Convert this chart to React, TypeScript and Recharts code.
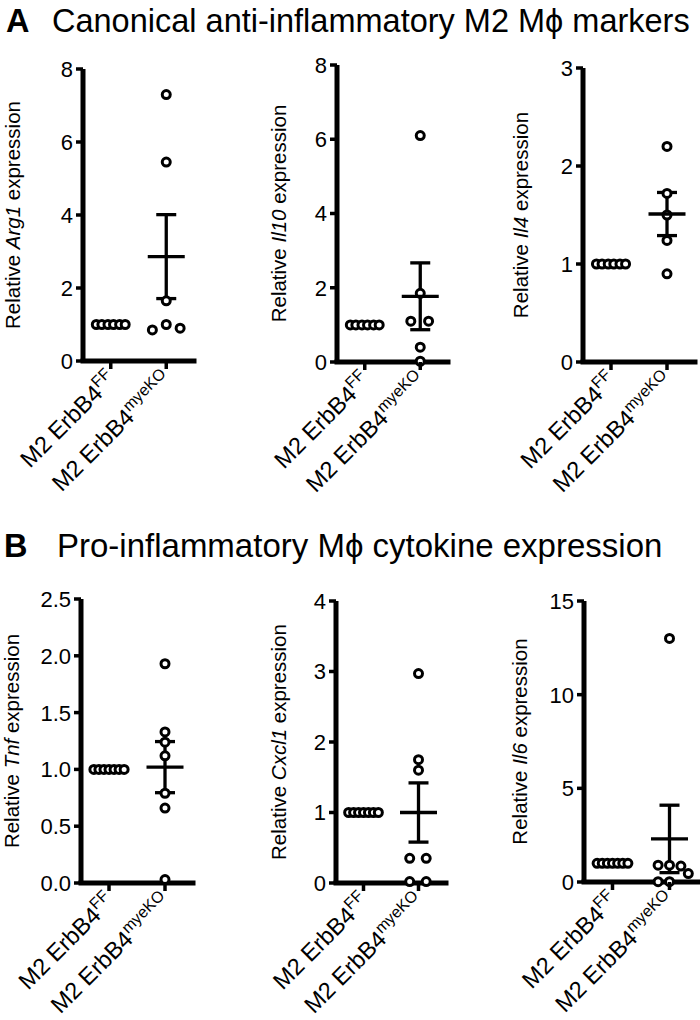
import React from 'react';
import { ScatterChart, Scatter, XAxis, YAxis, ErrorBar, ReferenceLine } from 'recharts';

const FONT = '"Liberation Sans", Arial, Helvetica, sans-serif';

// ---- labels ----
const titleA = 'Canonical anti-inflammatory M2 Mϕ markers';
const titleB = 'Pro-inflammatory Mϕ cytokine expression';
const groupBase = 'M2 ErbB4';
const groupSupers = ['FF', 'myeKO'];
const groupPositions = [1, 2];
const genes = ['Arg1', 'Il10', 'Il4', 'Tnf', 'Cxcl1', 'Il6'];

// ---- horizontal scatter offsets (in category units) ----
const ffJitter6 = [-0.26, -0.16, -0.05, 0.05, 0.16, 0.26];
const ffJitter7 = [-0.27, -0.18, -0.09, 0, 0.09, 0.18, 0.27];

// ---- data ----
const arg1FF = [1, 1, 1, 1, 1, 1];
const arg1KO = [7.3, 5.45, 1.65, 1.0, 0.85, 0.9];
const arg1KOJitter = [0, 0, 0, 0, -0.25, 0.25];
const arg1Mean = 2.86;
const arg1Sem = 1.15;

const il10FF = [1, 1, 1, 1, 1, 1];
const il10KO = [6.1, 1.85, 1.1, 1.1, 0.4, 0.02];
const il10KOJitter = [0, 0, -0.17, 0.15, 0, 0];
const il10Mean = 1.77;
const il10Sem = 0.9;

const il4FF = [1, 1, 1, 1, 1, 1];
const il4KO = [2.2, 1.72, 1.5, 1.24, 0.9];
const il4KOJitter = [0, 0, 0, 0, 0];
const il4Mean = 1.51;
const il4Sem = 0.22;

const tnfFF = [1, 1, 1, 1, 1, 1, 1];
const tnfKO = [1.93, 1.33, 1.24, 1.12, 0.79, 0.66, 0.03];
const tnfKOJitter = [0, 0, 0, 0, 0, 0, 0];
const tnfMean = 1.02;
const tnfSem = 0.225;

const cxcl1FF = [1, 1, 1, 1, 1, 1, 1];
const cxcl1KO = [2.97, 1.75, 1.6, 0.35, 0.35, 0.02, 0.02];
const cxcl1KOJitter = [0, 0, 0, -0.16, 0.14, -0.16, 0.14];
const cxcl1Mean = 1.0;
const cxcl1Sem = 0.42;

const il6FF = [1, 1, 1, 1, 1, 1, 1];
const il6KO = [13.0, 0.9, 0.9, 0.85, 0.45, 0.02, 0.02];
const il6KOJitter = [0, -0.2, 0, 0.2, 0.33, -0.2, 0];
const il6Mean = 2.3;
const il6Sem = 1.8;

const ticks8 = [0, 2, 4, 6, 8];
const ticks3 = [0, 1, 2, 3];
const ticks25 = [0, 0.5, 1, 1.5, 2, 2.5];
const ticks4 = [0, 1, 2, 3, 4];
const ticks15 = [0, 5, 10, 15];

const fmtInt = (v: number) => String(v);
const fmtOne = (v: number) => v.toFixed(1);

type Panel = {
  gene: string;
  ff: number[];
  ffJ: number[];
  ko: number[];
  koJ: number[];
  mean: number;
  sem: number;
  yTicks: number[];
  fmt: (v: number) => string;
  axisX: number;
  top: number;
  bottom: number;
  right: number;
  labelX: number;
  xh: number;
  mr: number;
};

const panels: Panel[] = [
  { gene: genes[0], ff: arg1FF, ffJ: ffJitter6, ko: arg1KO, koJ: arg1KOJitter, mean: arg1Mean, sem: arg1Sem, yTicks: ticks8, fmt: fmtInt, axisX: 83, top: 69, bottom: 361, right: 194, labelX: 12, xh: 150, mr: 4 },
  { gene: genes[1], ff: il10FF, ffJ: ffJitter6, ko: il10KO, koJ: il10KOJitter, mean: il10Mean, sem: il10Sem, yTicks: ticks8, fmt: fmtInt, axisX: 337, top: 65, bottom: 362, right: 448, labelX: 278, xh: 150, mr: 4 },
  { gene: genes[2], ff: il4FF, ffJ: ffJitter6, ko: il4KO, koJ: il4KOJitter, mean: il4Mean, sem: il4Sem, yTicks: ticks3, fmt: fmtInt, axisX: 583, top: 68, bottom: 362, right: 695, labelX: 520, xh: 150, mr: 4 },
  { gene: genes[3], ff: tnfFF, ffJ: ffJitter7, ko: tnfKO, koJ: tnfKOJitter, mean: tnfMean, sem: tnfSem, yTicks: ticks25, fmt: fmtOne, axisX: 81, top: 599, bottom: 883, right: 193, labelX: 11, xh: 135, mr: 4 },
  { gene: genes[4], ff: cxcl1FF, ffJ: ffJitter7, ko: cxcl1KO, koJ: cxcl1KOJitter, mean: cxcl1Mean, sem: cxcl1Sem, yTicks: ticks4, fmt: fmtInt, axisX: 336, top: 601, bottom: 883, right: 446, labelX: 278, xh: 135, mr: 4 },
  { gene: genes[5], ff: il6FF, ffJ: ffJitter7, ko: il6KO, koJ: il6KOJitter, mean: il6Mean, sem: il6Sem, yTicks: ticks15, fmt: fmtInt, axisX: 584, top: 601, bottom: 882, right: 698, labelX: 519, xh: 135, mr: 2 },
];

const YW = 85;
const MT = 14;
const Y_TICK = 7;
const Y_GAP = 3;
const X_TICK = 8;
const X_GAP = 2;
const AXIS_W = 5;
const TICK_W = 3.5;

const OpenCircle = (props: any) => {
  const { cx, cy } = props;
  if (cx == null || cy == null) return null;
  return <circle cx={cx} cy={cy} r={4} fill="#fff" stroke="#000" strokeWidth={3} />;
};

const MeanLine = (props: any) => {
  const { cx, cy } = props;
  if (cx == null || cy == null) return null;
  return <line x1={cx - 18.5} x2={cx + 18.5} y1={cy} y2={cy} stroke="#000" strokeWidth={3.3} />;
};

const XTick = (props: any) => {
  const { x, y, payload } = props;
  const idx = groupPositions.indexOf(payload.value);
  const sup = groupSupers[idx] ?? '';
  return (
    <g>
      <line x1={x} x2={x} y1={y - X_GAP - X_TICK} y2={y - X_GAP} stroke="#000" strokeWidth={TICK_W} />
      <g transform={`translate(${x + 7},${y + 10})`}>
        <text x={0} y={0} textAnchor="end" transform="rotate(-45)" fontSize={23.5} fontFamily={FONT} fill="#000">
          {groupBase}
          <tspan dy={-9} fontSize={16}>{sup}</tspan>
        </text>
      </g>
    </g>
  );
};

const makeYTick = (fmt: (v: number) => string) => (props: any) => {
  const { x, y, payload } = props;
  return (
    <g>
      <line x1={x + Y_GAP} x2={x + Y_GAP + Y_TICK} y1={y} y2={y} stroke="#000" strokeWidth={TICK_W} />
      <text x={x} y={y} dy="0.36em" textAnchor="end" fontSize={22} fontFamily={FONT} fill="#000">
        {fmt(payload.value)}
      </text>
    </g>
  );
};

function PanelChart({ p }: { p: Panel }) {
  const chartLeft = p.axisX - YW;
  const chartTop = p.top - MT;
  const width = p.right - chartLeft + p.mr;
  const plotH = p.bottom - p.top;
  const height = plotH + MT + p.xh;
  const yMax = p.yTicks[p.yTicks.length - 1];

  const ffData = p.ff.map((v, i) => ({ x: groupPositions[0] + p.ffJ[i], y: v }));
  const koData = p.ko.map((v, i) => ({ x: groupPositions[1] + p.koJ[i], y: v }));
  const meanData = [{ x: groupPositions[1], y: p.mean, sem: p.sem }];

  const lx = p.labelX - chartLeft;
  const ly = MT + plotH / 2;
  const yLabel = () => (
    <text
      x={lx}
      y={ly}
      transform={`rotate(-90, ${lx}, ${ly})`}
      textAnchor="middle"
      dominantBaseline="central"
      fontSize={20.5}
      fontFamily={FONT}
      fill="#000"
    >
      {'Relative '}
      <tspan fontStyle="italic">{p.gene}</tspan>
      {' expression'}
    </text>
  );

  return (
    <div style={{ position: 'absolute', left: chartLeft, top: chartTop, width, height }}>
      <ScatterChart width={width} height={height} margin={{ top: MT, right: p.mr, bottom: 0, left: 0 }}>
        <XAxis
          type="number"
          dataKey="x"
          domain={[0.5, 2.5]}
          ticks={groupPositions}
          interval={0}
          height={p.xh}
          tickSize={X_TICK}
          tickMargin={X_GAP}
          axisLine={false}
          tickLine={false}
          tick={<XTick />}
        />
        <YAxis
          type="number"
          dataKey="y"
          domain={[0, yMax]}
          ticks={p.yTicks}
          interval={0}
          width={YW}
          tickSize={Y_TICK}
          tickMargin={Y_GAP}
          axisLine={false}
          tickLine={false}
          tick={makeYTick(p.fmt)}
          label={yLabel}
        />
        <ReferenceLine x={0.5} stroke="#000" strokeWidth={AXIS_W} ifOverflow="visible" />
        <ReferenceLine y={0} stroke="#000" strokeWidth={AXIS_W} strokeLinecap="square" ifOverflow="visible" />
        <Scatter data={ffData} shape={<OpenCircle />} isAnimationActive={false} />
        <Scatter data={koData} shape={<OpenCircle />} isAnimationActive={false} />
        <Scatter data={meanData} shape={<MeanLine />} isAnimationActive={false}>
          <ErrorBar dataKey="sem" direction="y" width={10} stroke="#000" strokeWidth={3.3} isAnimationActive={false} />
        </Scatter>
      </ScatterChart>
    </div>
  );
}

export default function App() {
  return (
    <div
      style={{
        position: 'absolute',
        left: 0,
        top: 0,
        width: 700,
        height: 1020,
        overflow: 'hidden',
        background: '#fff',
        fontFamily: FONT,
      }}
    >
      <svg width={700} height={1020} style={{ position: 'absolute', left: 0, top: 0 }}>
        <text x={6} y={32} fontSize={32.5} fontWeight="bold" fontFamily={FONT} fill="#000">A</text>
        <text x={52} y={32} fontSize={32.5} fontFamily={FONT} fill="#000">{titleA}</text>
        <text x={4} y={557} fontSize={32.5} fontWeight="bold" fontFamily={FONT} fill="#000">B</text>
        <text x={57} y={557} fontSize={33} fontFamily={FONT} fill="#000">{titleB}</text>
      </svg>
      {panels.map((p, i) => (
        <PanelChart key={i} p={p} />
      ))}
    </div>
  );
}
